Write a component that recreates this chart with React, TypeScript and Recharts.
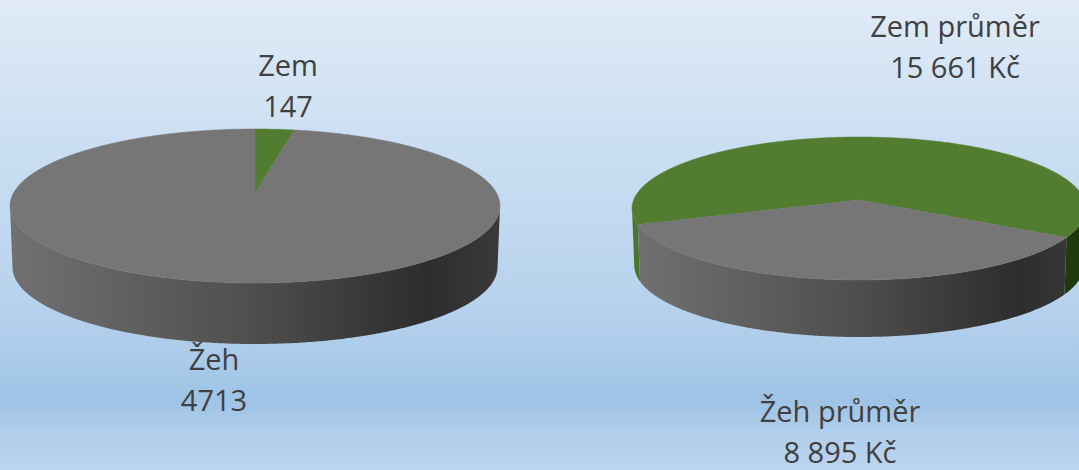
import { Pie, PieChart } from "recharts"

const categories = ["Zem", "Žeh"]
const countValues = [147, 4713]
const averageValues = [15661, 8895]

const TOP_COLORS: Record<string, string> = { Zem: "#527d30", "Žeh": "#767676" }
const WALL_STOPS: Record<string, [number, string][]> = {
  Zem: [[0, "#4c762c"], [0.5, "#3a5c20"], [1, "#1d380b"]],
  "Žeh": [[0, "#717171"], [0.5, "#4e4e4e"], [0.85, "#2d2d2d"], [1, "#3a3a3a"]],
}

const WIDTH = 1079
const HEIGHT = 470

interface Tilt {
  id: string
  ry: number
  depth: number
  // how far the pie centre is pushed back by the perspective
  persp: number
}

const LEFT_TILT: Tilt = { id: "left", ry: 77, depth: 61, persp: 0.165 }
const RIGHT_TILT: Tilt = { id: "right", ry: 71.5, depth: 57, persp: 0.119 }

// flat pie angle -> point on the tilted disc
function project(angle: number, cx: number, cy: number, r: number, tilt: Tilt, rim = 0) {
  const u = Math.cos((angle * Math.PI) / 180)
  const v = Math.sin((angle * Math.PI) / 180)
  return projectUV(u, v, cx, cy, r, tilt, rim)
}

function projectUV(u: number, v: number, cx: number, cy: number, r: number, tilt: Tilt, rim = 0) {
  const p = tilt.persp
  const w = 1 + p * v
  const a = r * Math.sqrt(1 - p * p) * (rim ? 0.99 : 1)
  return {
    x: cx + (a * u) / w,
    y: cy - (tilt.ry * (v + p)) / w + rim,
  }
}

function arcAngles(start: number, end: number) {
  const out: number[] = []
  const steps = Math.max(2, Math.ceil(Math.abs(start - end) * 2))
  for (let i = 0; i <= steps; i++) out.push(start + ((end - start) * i) / steps)
  return out
}

function toPath(points: { x: number; y: number }[]) {
  return points.map((pt, i) => `${i ? "L" : "M"}${pt.x.toFixed(2)} ${pt.y.toFixed(2)}`).join(" ") + " Z"
}

function topShape(tilt: Tilt) {
  return function TopSlice(props: any) {
    const { cx, cy, outerRadius, startAngle, endAngle, name } = props
    const apex = projectUV(0, 0, cx, cy, outerRadius, tilt)
    const arc = arcAngles(startAngle, endAngle).map((a) => project(a, cx, cy, outerRadius, tilt))
    const fill = TOP_COLORS[name]
    return <path d={toPath([apex, ...arc])} fill={fill} stroke={fill} strokeWidth={0.5} />
  }
}

function wallShape(tilt: Tilt) {
  return function WallSlice(props: any) {
    const { cx, cy, outerRadius, startAngle, endAngle, name } = props
    // only the front of the rim can be seen, a slice can show it in two separate runs
    const runs: number[][] = []
    let run: number[] = []
    for (const a of arcAngles(startAngle, endAngle)) {
      if (Math.sin((a * Math.PI) / 180) <= -tilt.persp) {
        run.push(a)
      } else if (run.length) {
        runs.push(run)
        run = []
      }
    }
    if (run.length) runs.push(run)
    const id = `wall-${tilt.id}-${name}`
    return (
      <g>
        <defs>
          <linearGradient id={id} gradientUnits="userSpaceOnUse" x1={cx - outerRadius} x2={cx + outerRadius} y1={0} y2={0}>
            {WALL_STOPS[name].map(([o, c]) => (
              <stop key={o} offset={o} stopColor={c} />
            ))}
          </linearGradient>
        </defs>
        {runs.map((angles, i) => {
          const upper = angles.map((a) => project(a, cx, cy, outerRadius, tilt))
          const lower = angles.map((a) => project(a, cx, cy, outerRadius, tilt, tilt.depth)).reverse()
          return <path key={i} d={toPath([...upper, ...lower])} fill={`url(#${id})`} />
        })}
      </g>
    )
  }
}

const countData = categories.map((name, i) => ({ name, value: countValues[i] }))
const averageData = categories.map((name, i) => ({ name, value: averageValues[i] }))

const spaced = (n: number) => String(n).replace(/\B(?=(\d{3})+$)/g, " ")

const labelStyle = {
  position: "absolute" as const,
  width: 300,
  textAlign: "center" as const,
  color: "#404040",
  fontFamily: "'Open Sans', sans-serif",
  fontSize: 29,
  lineHeight: "41px",
}

export default function App() {
  return (
    <div
      style={{
        position: "absolute",
        left: 0,
        top: 0,
        width: WIDTH,
        height: HEIGHT,
        overflow: "hidden",
        background: "linear-gradient(180deg, #e0ebf7 0%, #cfe1f3 25%, #b7d2ed 65%, #a5c8e8 80%, #9ec3e5 85%, #b0cdeb 92%, #bcd5ef 100%)",
      }}
    >
      <PieChart width={WIDTH} height={HEIGHT} margin={{ top: 0, right: 0, bottom: 0, left: 0 }}>
        <Pie data={countData} dataKey="value" nameKey="name" cx={255} cy={206} outerRadius={245} startAngle={90} endAngle={-270} stroke="none" isAnimationActive={false} shape={wallShape(LEFT_TILT)} />
        <Pie data={countData} dataKey="value" nameKey="name" cx={255} cy={206} outerRadius={245} startAngle={90} endAngle={-270} stroke="none" isAnimationActive={false} shape={topShape(LEFT_TILT)} />
        <Pie data={averageData} dataKey="value" nameKey="name" cx={859} cy={208.5} outerRadius={227} startAngle={199.6} endAngle={-160.4} stroke="none" isAnimationActive={false} shape={wallShape(RIGHT_TILT)} />
        <Pie data={averageData} dataKey="value" nameKey="name" cx={859} cy={208.5} outerRadius={227} startAngle={199.6} endAngle={-160.4} stroke="none" isAnimationActive={false} shape={topShape(RIGHT_TILT)} />
      </PieChart>
      <div style={{ ...labelStyle, left: 138, top: 44 }}>{categories[0]}<br />{countValues[0]}</div>
      <div style={{ ...labelStyle, left: 64, top: 338 }}>{categories[1]}<br />{countValues[1]}</div>
      <div style={{ ...labelStyle, left: 805, top: 5 }}>{categories[0]} průměr<br />{spaced(averageValues[0])} Kč</div>
      <div style={{ ...labelStyle, left: 690, top: 390 }}>{categories[1]} průměr<br />{spaced(averageValues[1])} Kč</div>
    </div>
  )
}
